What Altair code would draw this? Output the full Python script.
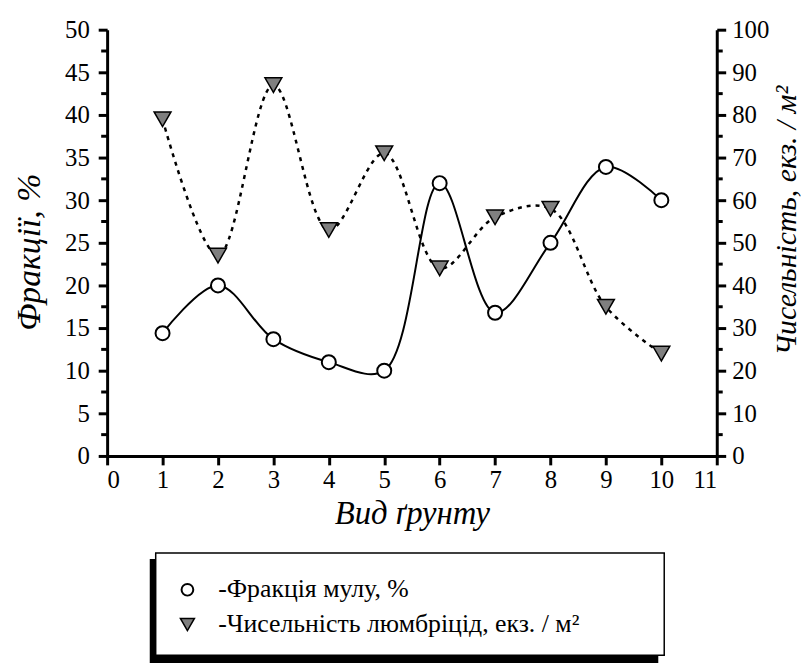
import altair as alt
import pandas as pd

# ---- data ----
soil_type = [1, 2, 3, 4, 5, 6, 7, 8, 9, 10]
silt_fraction = [14.4, 20.0, 13.7, 11.0, 10.0, 32.0, 16.8, 25.0, 33.9, 30.0]   # %, left axis
worm_density = [79, 47, 87, 53, 71, 44, 56, 58, 35, 24]                        # ind./m2, right axis

x_ticks = list(range(0, 12))
left_ticks = list(range(0, 55, 5))
left_minor = [2.5 + 5 * i for i in range(10)]
right_ticks = list(range(0, 110, 10))
right_minor = [5 + 10 * i for i in range(10)]

legend_labels = ["-Фракція мулу, %", "-Чисельність люмбріцід, екз. / м²"]

x_title = "Вид ґрунту"
left_title = "Фракції, %"
right_title = "Чисельність, екз. / м²"

W, H = 615, 430
FONT = "Liberation Serif"

df = pd.DataFrame({"x": soil_type, "silt": silt_fraction, "worms": worm_density})
df_lminor = pd.DataFrame({"v": left_minor})
df_rminor = pd.DataFrame({"v": right_minor})

x_enc = alt.X(
    "x:Q",
    scale=alt.Scale(domain=[0, 11], nice=False),
    axis=alt.Axis(
        values=x_ticks, format="d", title=x_title, orient="bottom",
        titleX=W / 2, titleY=58, titleBaseline="middle", titleAlign="center",
        titleFontStyle="italic", titleFontSize=33, titleFontWeight="normal",
        titleFont=FONT, labelFont=FONT, labelPadding=3,
    ),
)

left_scale = alt.Scale(domain=[0, 50], nice=False)
right_scale = alt.Scale(domain=[0, 100], nice=False)

left_axis = alt.Axis(
    orient="left", values=left_ticks, format="d", title=left_title,
    titleX=-78, titleY=224, titleAngle=270, titleAlign="center", titleBaseline="middle",
    titleFontStyle="italic", titleFontSize=34, titleFontWeight="normal",
    titleFont=FONT, labelFont=FONT, labelPadding=9,
)
right_axis = alt.Axis(
    orient="right", values=right_ticks, format="d", title=right_title,
    titleX=70, titleY=192, titleAngle=270, titleAlign="center", titleBaseline="middle",
    titleFontStyle="italic", titleFontSize=30, titleFontWeight="normal",
    titleFont=FONT, labelFont=FONT, labelPadding=6,
)

base = alt.Chart(df)

silt_line = base.mark_line(color="black", strokeWidth=2, interpolate="catmull-rom").encode(
    x=x_enc, y=alt.Y("silt:Q", scale=left_scale, axis=left_axis)
)
silt_pts = base.mark_point(
    shape="circle", filled=True, fill="white", stroke="black", strokeWidth=2,
    size=200, opacity=1,
).encode(x="x:Q", y=alt.Y("silt:Q"))
left_minor_ticks = alt.Chart(df_lminor).mark_rule(color="black", strokeWidth=3).encode(
    y=alt.Y("v:Q"), x=alt.value(-6), x2=alt.value(0)
)
left_group = alt.layer(silt_line, silt_pts, left_minor_ticks)

worm_line = base.mark_line(
    color="black", strokeWidth=2.5, strokeDash=[4, 5], interpolate="catmull-rom"
).encode(x="x:Q", y=alt.Y("worms:Q", scale=right_scale, axis=right_axis))
worm_pts = base.mark_point(
    shape="triangle-down", filled=True, fill="#7f7f7f", stroke="black", strokeWidth=1.5,
    size=290, opacity=1,
).encode(x="x:Q", y=alt.Y("worms:Q"))
right_minor_ticks = alt.Chart(df_rminor).mark_rule(color="black", strokeWidth=3).encode(
    y=alt.Y("v:Q"), x=alt.value(W), x2=alt.value(W + 6)
)
right_group = alt.layer(worm_line, worm_pts, right_minor_ticks)

# ---- custom legend box with shadow ----
one = pd.DataFrame({"a": [0]})
shadow = alt.Chart(one).mark_rect(color="black").encode(
    x=alt.value(43), x2=alt.value(556), y=alt.value(534), y2=alt.value(640)
)
box = alt.Chart(one).mark_rect(fill="white", stroke="black", strokeWidth=1.5).encode(
    x=alt.value(49), x2=alt.value(562), y=alt.value(528), y2=alt.value(631)
)
leg_c = alt.Chart(one).mark_point(
    shape="circle", filled=True, fill="white", stroke="black", strokeWidth=2, size=140, opacity=1
).encode(x=alt.value(81), y=alt.value(565))
leg_t = alt.Chart(one).mark_point(
    shape="triangle-down", filled=True, fill="#7f7f7f", stroke="black", strokeWidth=1.5,
    size=200, opacity=1,
).encode(x=alt.value(81), y=alt.value(600))
leg_txt1 = alt.Chart(pd.DataFrame({"t": [legend_labels[0]]})).mark_text(
    font=FONT, fontSize=26, align="left", baseline="middle", color="black"
).encode(x=alt.value(112), y=alt.value(564), text="t:N")
leg_txt2 = alt.Chart(pd.DataFrame({"t": [legend_labels[1]]})).mark_text(
    font=FONT, fontSize=26, align="left", baseline="middle", color="black"
).encode(x=alt.value(112), y=alt.value(600), text="t:N")

chart = (
    alt.layer(left_group, right_group, shadow, box, leg_c, leg_t, leg_txt1, leg_txt2)
    .resolve_scale(y="independent")
    .properties(
        width=W, height=H,
        autosize=alt.AutoSizeParams(type="none"),
        padding={"left": 100, "top": 19, "right": 88, "bottom": 206},
        background="white",
    )
    .configure(font=FONT)
    .configure_view(stroke=None)
    .configure_axis(
        grid=False, domainColor="black", domainWidth=3, tickColor="black", tickWidth=3,
        tickSize=9, labelFont=FONT, labelFontSize=25, labelColor="black",
        titleFont=FONT, titleColor="black",
    )
)

chart.save("out.html", embed_options={"renderer": "svg", "actions": False})
